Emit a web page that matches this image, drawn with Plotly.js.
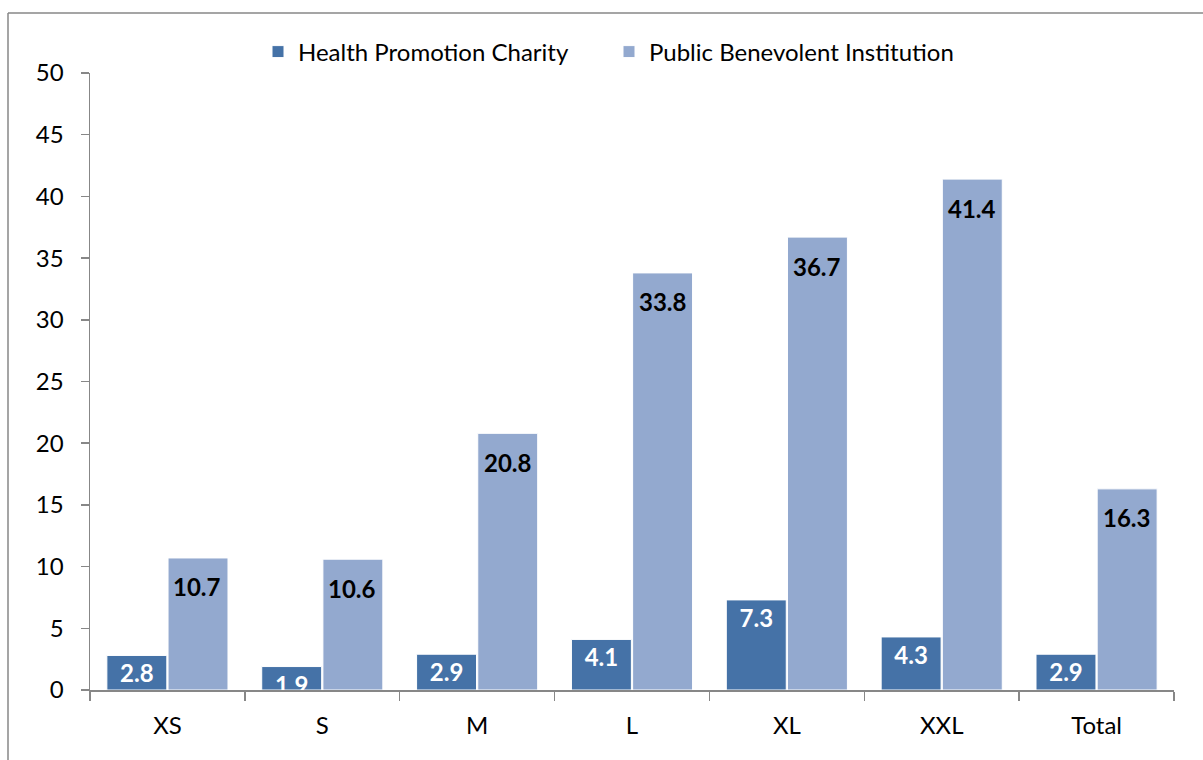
<!DOCTYPE html>
<html>
<head>
<meta charset="utf-8">
<script src="https://cdn.plot.ly/plotly-3.0.1.min.js"></script>
<style>html,body{margin:0;padding:0;background:#fff;}#chart{width:1203px;height:760px;}</style>
</head>
<body>
<div id="chart"></div>
<script>
var categories = ["XS", "S", "M", "L", "XL", "XXL", "Total"];
var healthPromotion = [2.8, 1.9, 2.9, 4.1, 7.3, 4.3, 2.9];
var publicBenevolent = [10.7, 10.6, 20.8, 33.8, 36.7, 41.4, 16.3];
var seriesNames = ["Health Promotion Charity", "Public Benevolent Institution"];
var yTicks = [0, 5, 10, 15, 20, 25, 30, 35, 40, 45, 50];

var FONT = "Lato, 'Open Sans', sans-serif";
var FS = 24;

var traces = [
  {
    type: "bar", name: seriesNames[0], x: categories, y: healthPromotion,
    marker: {color: "#4572A7", line: {color: "#ffffff", width: 1}},
    text: healthPromotion.map(function(v){return v.toFixed(1);}),
    textposition: "inside", insidetextanchor: "end", constraintext: "none",
    textfont: {family: FONT, size: FS, color: "#ffffff", weight: "bold"},
    cliponaxis: true, hoverinfo: "x+y"
  },
  {
    type: "bar", name: seriesNames[1], x: categories, y: publicBenevolent,
    marker: {color: "#93A9CF", line: {color: "#ffffff", width: 1}},
    hoverinfo: "x+y"
  }
];

var plotW = 1203 - 90 - 29, plotH = 760 - 73 - 70;

var annotations = categories.map(function(c, i){
  return {
    x: c, y: publicBenevolent[i], xref: "x", yref: "y",
    text: publicBenevolent[i].toFixed(1), showarrow: false,
    xshift: 30, yshift: -29, yanchor: "middle",
    font: {family: FONT, size: FS, color: "#000000", weight: "bold"}
  };
});

var layout = {
  width: 1203, height: 760,
  margin: {l: 90, r: 29, t: 73, b: 70, autoexpand: false},
  paper_bgcolor: "#ffffff", plot_bgcolor: "#ffffff",
  font: {family: FONT, size: FS, color: "#000000"},
  barmode: "group", bargap: 0.21, bargroupgap: 0.02,
  showlegend: true,
  legend: {orientation: "h", x: (258 - 90) / plotW, xanchor: "left", y: 1 + 21 / plotH, yanchor: "middle",
           bgcolor: "rgba(0,0,0,0)", font: {family: FONT, size: FS, color: "#000"},
           entrywidth: 306, entrywidthmode: "pixels", tracegroupgap: 0},
  xaxis: {
    type: "category", showgrid: false, zeroline: false,
    showline: true, linecolor: "#878787", linewidth: 1.5,
    ticks: "outside", tickson: "boundaries", ticklen: 9, tickcolor: "#878787", tickwidth: 1.5,
    tickfont: {family: FONT, size: FS, color: "#000"}, ticklabelstandoff: 14
  },
  yaxis: {
    range: [0, 50], tickvals: yTicks, showgrid: false, zeroline: false,
    showline: true, linecolor: "#878787", linewidth: 1.5,
    ticks: "outside", ticklen: 8, tickcolor: "#878787", tickwidth: 1.5,
    tickfont: {family: FONT, size: FS, color: "#000"}, ticklabelstandoff: 12
  },
  annotations: annotations,
  shapes: [
    {type: "line", xref: "paper", yref: "paper",
     x0: (8 - 90) / plotW, x1: (8 - 90) / plotW, y0: (690 - 13) / plotH, y1: (690 - 770) / plotH,
     line: {color: "#878787", width: 1.5}},
    {type: "line", xref: "paper", yref: "paper",
     x0: (8 - 90) / plotW, x1: (1210 - 90) / plotW, y0: (690 - 13) / plotH, y1: (690 - 13) / plotH,
     line: {color: "#878787", width: 1.5}}
  ]
};

Plotly.newPlot("chart", traces, layout, {displayModeBar: false, staticPlot: true});
</script>
</body>
</html>
